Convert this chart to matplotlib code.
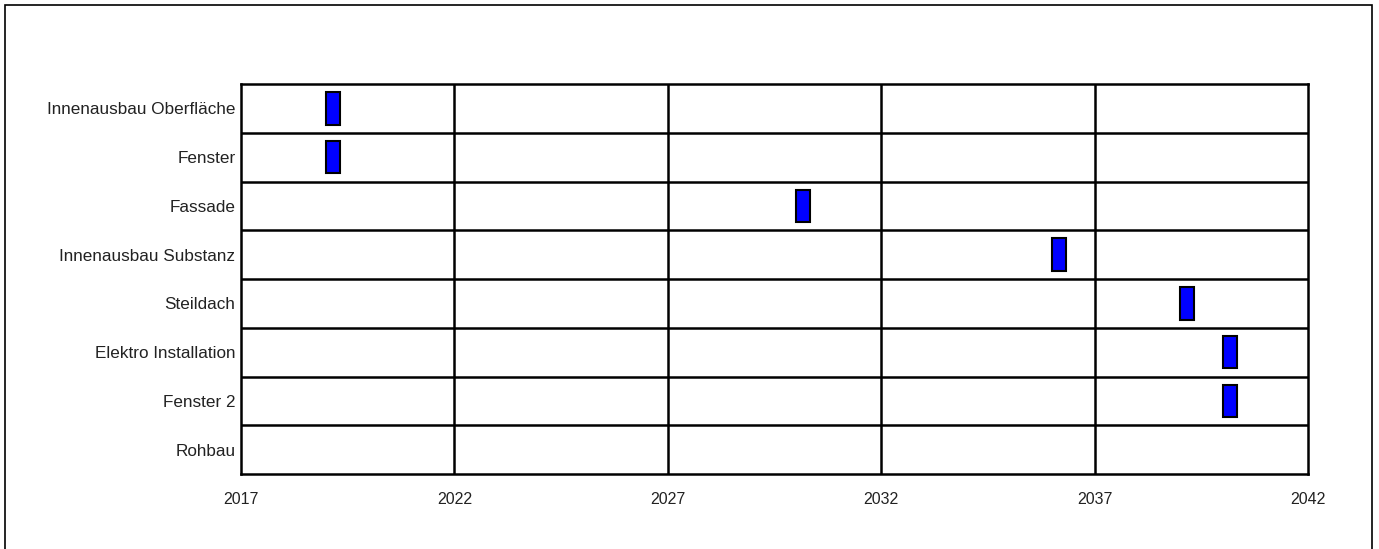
import matplotlib
matplotlib.use("Agg")
import matplotlib.pyplot as plt
from matplotlib.patches import Rectangle

# Building components, listed top to bottom
tasks = ["Innenausbau Oberfläche", "Fenster", "Fassade", "Innenausbau Substanz",
         "Steildach", "Elektro Installation", "Fenster 2", "Rohbau"]
# Scheduled start year of each measure (None = nothing planned)
starts = [2019.0, 2019.0, 2030.0, 2036.0, 2039.0, 2040.0, 2040.0, None]
durations = [0.33, 0.33, 0.33, 0.33, 0.33, 0.33, 0.33, None]
year_ticks = [2017, 2022, 2027, 2032, 2037, 2042]

plt.rcParams['font.family'] = ['Liberation Sans', 'DejaVu Sans']

fig = plt.figure(figsize=(13.79, 5.49), dpi=100)
fig.patches.append(Rectangle((5 / 1379, -0.01), 1367 / 1379, 1 - 5 / 549 + 0.01,
                             transform=fig.transFigure, fill=False,
                             edgecolor='black', linewidth=1.2))

ax = fig.add_axes([241 / 1379, 1 - 474 / 549, (1308 - 241) / 1379, (474 - 84) / 549])

n = len(tasks)
for i, (s, d) in enumerate(zip(starts, durations)):
    if s is None:
        continue
    ax.barh(i, d, left=s, height=0.67, color='#0000ff', edgecolor='black',
            linewidth=1.5, zorder=3)

ax.set_xlim(year_ticks[0], year_ticks[-1])
ax.set_ylim(n - 0.5, -0.5)
ax.set_yticks(range(n))
ax.set_yticklabels(tasks, fontsize=12.3, color='#222222')
ax.set_xticks(year_ticks)
ax.set_xticklabels([str(y) for y in year_ticks], fontsize=11.5, color='#222222')
ax.tick_params(axis='both', length=0)
ax.tick_params(axis='x', pad=13)
ax.tick_params(axis='y', pad=4)

# Row separators and year gridlines
for b in range(1, n):
    ax.axhline(b - 0.5, color='black', linewidth=1.8, zorder=2)
for y in year_ticks[1:-1]:
    ax.axvline(y, color='black', linewidth=1.8, zorder=2)
for sp in ax.spines.values():
    sp.set_linewidth(1.8)
    sp.set_color('black')

fig.savefig("out.png", dpi=100)
